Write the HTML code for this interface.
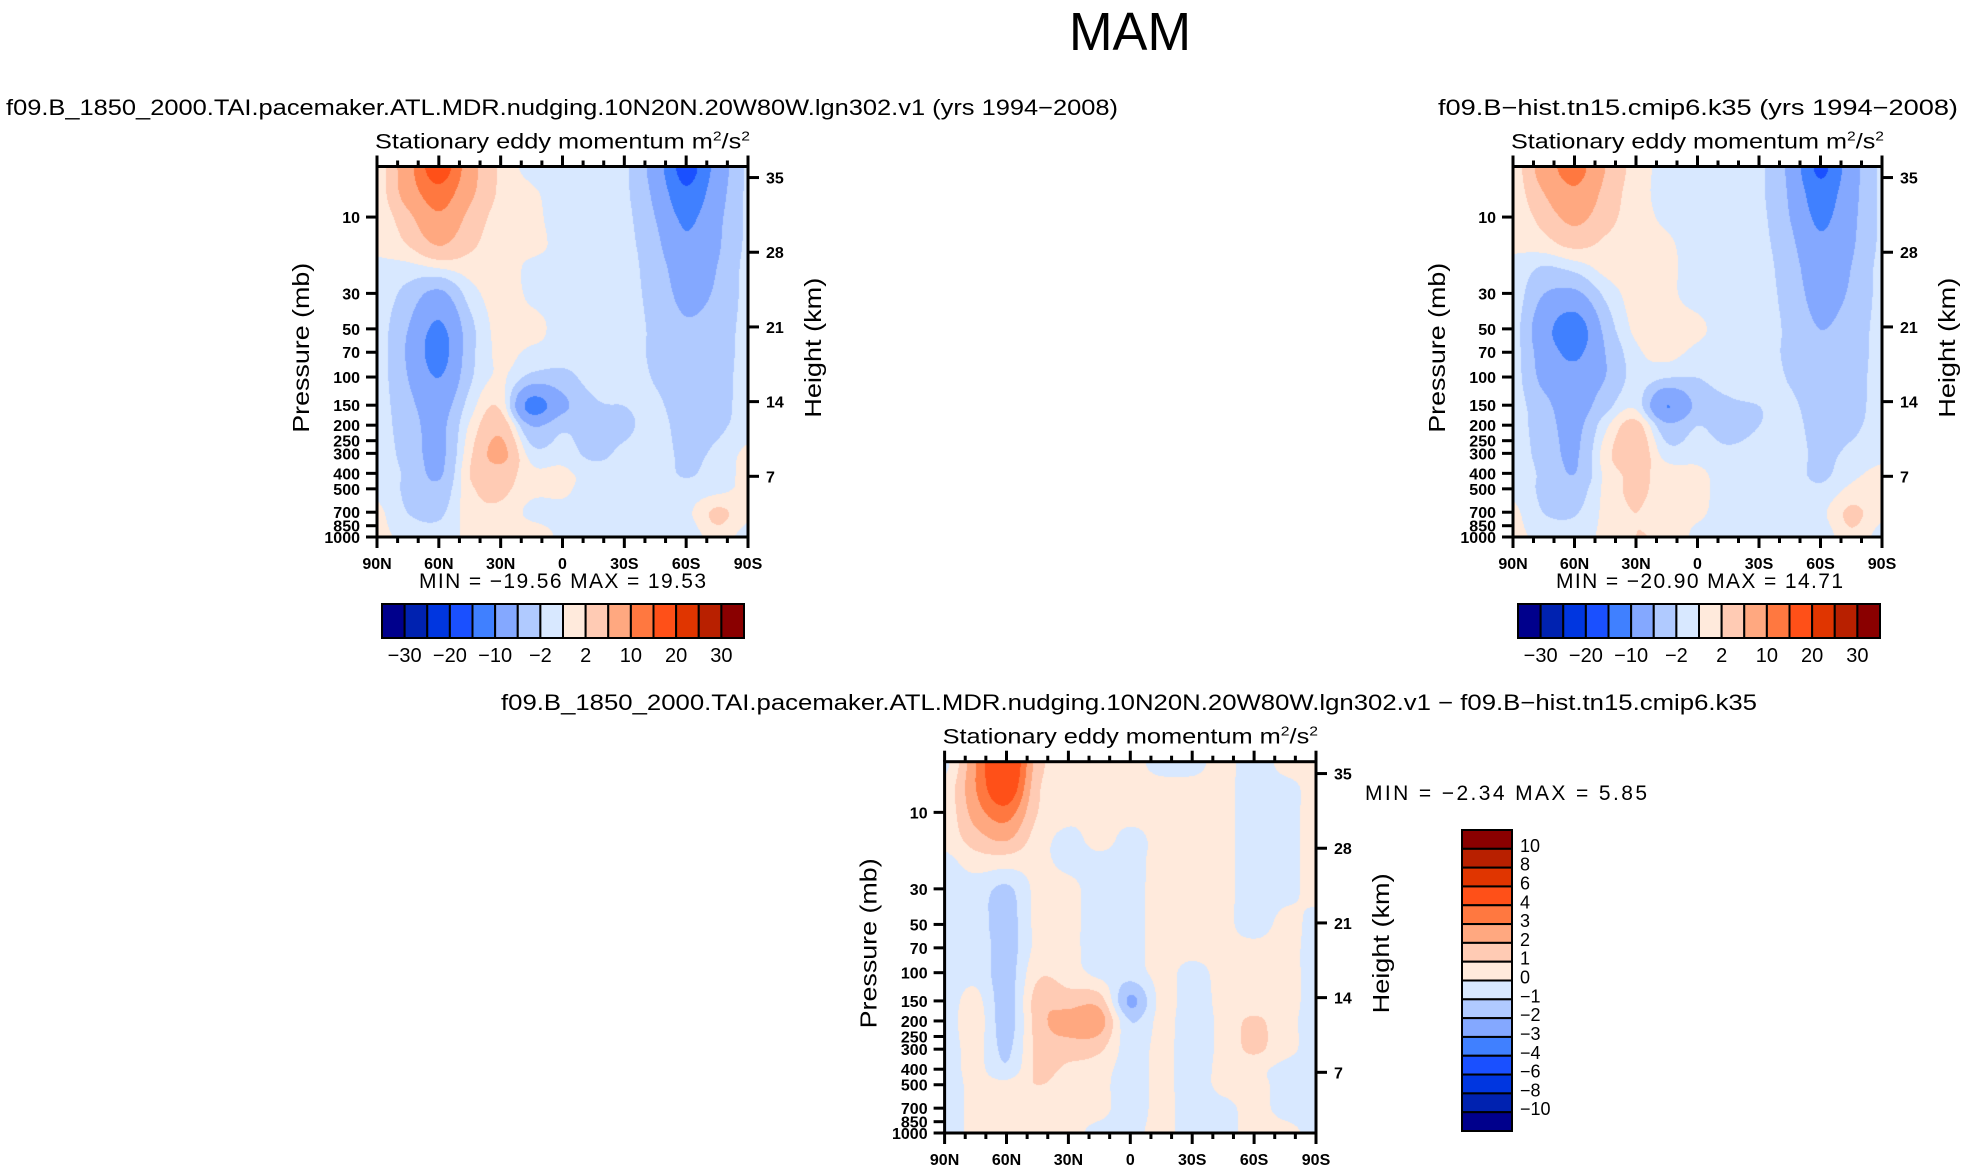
<!DOCTYPE html>
<html><head><meta charset="utf-8"><style>
html,body{margin:0;padding:0;background:#fff;}
#root{position:relative;width:1965px;height:1170px;overflow:hidden;background:#fff;}
canvas{position:absolute;}
svg{position:absolute;left:0;top:0;}
text{font-family:"Liberation Sans",sans-serif;fill:#000;}
.tk{font-weight:bold;font-size:16px;}
</style></head><body>
<div id="root">
<canvas id="cA"></canvas>
<canvas id="cB"></canvas>
<canvas id="cC"></canvas>
<svg id="sv" width="1965" height="1170">
<text x="1130" y="50" font-size="54" text-anchor="middle" style="font-family:'DejaVu Sans ExtraLight','Liberation Sans',sans-serif;font-weight:200" textLength="122" lengthAdjust="spacingAndGlyphs">MAM</text>
<text x="6" y="115" font-size="22" textLength="1112" lengthAdjust="spacingAndGlyphs">f09.B_1850_2000.TAI.pacemaker.ATL.MDR.nudging.10N20N.20W80W.lgn302.v1  (yrs 1994−2008)</text>
<text x="1438" y="115" font-size="22" textLength="520" lengthAdjust="spacingAndGlyphs">f09.B−hist.tn15.cmip6.k35  (yrs 1994−2008)</text>
<text x="501" y="710" font-size="22" textLength="1256" lengthAdjust="spacingAndGlyphs">f09.B_1850_2000.TAI.pacemaker.ATL.MDR.nudging.10N20N.20W80W.lgn302.v1  −  f09.B−hist.tn15.cmip6.k35</text>
</svg>
</div>
<script>
// ---- data ----
const lats = [90,75,60,45,30,15,0,-15,-30,-45,-60,-75,-90];
const pressures = [5,7,10,15,20,30,50,70,100,150,200,300,400,500,700,1000];
const fieldA = [
[0.5,8,18,7,1.5,-0.5,-0.8,-1,-1.5,-7,-17,-8,-1.5],
[0.5,7,13,6,1.5,0.3,-0.8,-1,-1.5,-6,-14,-7,-1.5],
[0.3,4,9,4,1,0.5,-0.8,-1,-1.3,-5,-11,-6,-1.5],
[0.3,2,5,2.5,0.8,0.5,-0.5,-1,-1.2,-4,-9,-5.5,-1.5],
[-0.3,-0.5,0.5,1,0.8,-0.3,-0.5,-0.8,-1,-3.5,-7,-5,-1.2],
[-0.5,-3,-6,-1,0.8,-0.3,-0.5,-0.5,-1,-3,-6,-4.5,-1.2],
[-0.8,-5,-11,-3,0.8,0.5,-0.5,-0.5,-1,-2.5,-4.5,-3.5,-1.2],
[-0.8,-5.5,-12,-3,0.5,-0.5,-0.8,-1,-1,-2.5,-4,-3.5,-1],
[-0.8,-5,-10,-2.5,0.3,-3,-3,-1,-1,-2.2,-4,-3.2,-1],
[-0.8,-4,-7,-1,1.5,-12,-6,-2.5,-2,-1.5,-3.5,-3,-1],
[-0.8,-3.5,-6,0.3,4,-5,-2.5,-3,-2.5,-1.2,-3,-2.5,-1],
[-0.8,-3,-6,1.5,6,-1,-1,-2.5,-1.5,-1,-2.5,-1.5,0.5],
[-0.8,-2.5,-5.5,2,3.5,0.5,0.5,-1,-1,-1,-2.2,-1,0.5],
[-0.5,-2.5,-4,1.5,2.5,0.5,0.3,-0.8,-1,-0.8,-1.2,-0.5,0.5],
[0.5,-2,-2.5,1,1.5,-0.5,-0.5,-0.8,-0.8,-0.8,-0.5,2.5,0.5],
[0.5,-0.5,-1,0.5,1,1.5,-0.5,-0.8,-0.8,-0.8,-1.5,1,-1]];
const fieldB = [
[0.5,7,12,5,1,-0.5,-0.8,-1,-1.5,-6,-16,-7,-1.5],
[0.5,5,9,4,0.8,-0.5,-0.8,-1,-1.5,-5.5,-13,-6.5,-1.5],
[0.3,3,6,3,0.8,-0.3,-0.8,-1,-1.3,-5,-11,-6,-1.5],
[0.3,1,2.5,1.5,0.8,0.3,-0.8,-1,-1.2,-4,-9,-5.5,-1.5],
[-0.5,-2,-1,0.8,0.8,0.3,-0.5,-0.8,-1,-3.5,-7.5,-5,-1.2],
[-0.5,-5,-6,-1.5,0.8,0.3,-0.5,-0.8,-1,-3,-6.5,-4.5,-1.2],
[-0.8,-8,-13,-4,0.5,0.5,0.3,-0.8,-1,-2.5,-5,-3.5,-1.2],
[-0.8,-7,-11,-5,-0.5,0.5,-0.5,-1,-1,-2.5,-4,-3.5,-1],
[-0.8,-6,-8,-5,-1,-2,-2,-1,-1,-2.2,-4,-3.2,-1],
[-0.8,-4,-7,-3,-0.5,-10,-4,-2.5,-2,-1.5,-3.5,-3,-1],
[-0.8,-3.5,-6,-0.5,3,-4,-2,-3,-2,-1.2,-3,-2.5,-1],
[-0.8,-3,-5.5,1,4,-1,-0.8,-1.5,-1,-1,-2.5,-1.5,-0.5],
[-0.8,-2.5,-5,0.5,2.5,1,0.5,-1,-1,-1,-2.5,-0.5,0.5],
[-0.5,-2.5,-3.5,0.5,2.5,0.8,0.5,-0.8,-1,-0.8,-1.5,0.5,0.5],
[0.5,-2,-2.2,0.5,2,0.5,0.3,-0.8,-0.8,-0.8,-0.5,2.5,0.5],
[0.5,-0.5,-0.8,0.5,2,1.5,-0.5,-0.8,-0.8,-0.8,-1.5,1.5,-1]];
const fieldC = [
[-0.3,3,5.5,1.5,0.3,0.3,0.3,-0.3,-0.3,0.3,-0.5,0.3,0.3],
[0.3,3,5,1.2,0.3,0.3,0.3,0.3,0.3,0.3,-0.5,-0.3,0.3],
[0.3,2.5,3.5,1,0.3,0.3,0.3,0.3,0.3,0.3,-0.5,-0.3,0.3],
[0.3,1.5,2,0.5,-0.3,0.3,-0.3,0.3,0.3,0.3,-0.5,-0.3,0.3],
[-0.3,0.5,0.5,0.3,-0.3,-0.3,-0.3,0.3,0.3,0.3,-0.5,-0.3,0.3],
[-0.5,-0.5,-1.2,0.3,0.3,-0.5,-0.3,0.3,0.3,0.3,-0.5,-0.3,0.3],
[-0.5,-0.5,-1.5,0.3,0.3,-0.5,-0.3,0.3,0.3,0.3,-0.5,0.3,-0.3],
[-0.5,-0.3,-1.5,0.3,0.3,-0.5,-0.3,0.3,0.3,0.3,0.3,0.3,-0.3],
[-0.5,-0.3,-1.5,0.8,0.5,-0.3,-0.5,0.3,-0.3,0.3,0.3,0.3,-0.3],
[-0.5,0.3,-1.5,1.5,1.5,1.5,-2.2,0.3,-0.5,0.3,0.3,0.3,-0.3],
[-0.5,0.5,-1.5,1.5,2.5,2.5,-1,0.3,-0.5,0.3,1.2,0.3,-0.3],
[-0.5,0.3,-1.2,1.3,1.5,1.2,-0.5,0.3,-0.5,0.3,1.2,0.3,-0.3],
[-0.5,0.3,-0.8,1.2,0.8,0.5,-0.5,0.3,-0.5,0.3,0.3,-0.3,-0.3],
[-0.5,0.3,0.3,1,0.5,0.3,-0.5,0.3,-0.5,0.3,0.3,-0.3,-0.3],
[-0.5,0.3,0.3,0.3,0.3,0.3,-0.5,0.3,-0.5,-0.3,0.3,-0.3,-0.3],
[-0.5,0.3,0.3,0.3,0.3,-0.3,-0.3,0.3,-0.5,-0.3,0.3,0.3,-0.3]];
const levelsAB = [-30,-25,-20,-15,-10,-5,-2,0,2,5,10,15,20,25,30];
const levelsC = [-10,-8,-6,-4,-3,-2,-1,0,1,2,3,4,6,8,10];
const labelsAB = ["−30","−20","−10","−2","2","10","20","30"];
const labelsC = ["−10","−8","−6","−4","−3","−2","−1","0","1","2","3","4","6","8","10"];
const palette = ["#00008c","#0022b0","#0036e0","#1a50ff","#4080ff","#84a8ff","#b0caff","#d8e8ff","#ffeadc","#ffcbb4","#ffa880","#ff7840","#ff5018","#e03500","#b82000","#8a0000"];
const presTicks = [10,30,50,70,100,150,200,250,300,400,500,700,850,1000];
const heightTicks = [7,14,21,28,35];
const latTicks = [90,60,30,0,-30,-60,-90];
const latTickLabels = ["90N","60N","30N","0","30S","60S","90S"];
const minmaxA = ["−19.56","19.53"];
const minmaxB = ["−20.90","14.71"];
const minmaxC = ["−2.34","5.85"];

// ---- helpers ----
const NS="http://www.w3.org/2000/svg";
const sv=document.getElementById('sv');
function mk(tag,attrs,txt){const e=document.createElementNS(NS,tag);for(const k in attrs)e.setAttribute(k,attrs[k]);if(txt!==undefined)e.textContent=txt;sv.appendChild(e);return e;}
const LP0=Math.log10(4.83), LP1=3;
function cubic(p0,p1,p2,p3,t){return p1+0.5*t*(p2-p0+t*(2*p0-5*p1+4*p2-p3+t*(3*(p1-p2)+p3-p0)));}
const logP=pressures.map(p=>Math.log10(p));
function sample(field,latv,lp){
  let fx=(90-latv)/15; let i=Math.floor(fx); if(i>11)i=11; if(i<0)i=0; const tx=fx-i;
  let lpc=Math.max(logP[0],Math.min(3,lp)); let j=0; while(j<logP.length-2&&lpc>logP[j+1])j++;
  const ty=(lpc-logP[j])/(logP[j+1]-logP[j]);
  const nr=field.length,nc=field[0].length;
  const g=(r,c)=>field[Math.max(0,Math.min(nr-1,r))][Math.max(0,Math.min(nc-1,c))];
  const rowv=r=>cubic(g(r,i-1),g(r,i),g(r,i+1),g(r,i+2),tx);
  return cubic(rowv(j-1),rowv(j),rowv(j+1),rowv(j+2),ty);
}
function hex(c){return [parseInt(c.substr(1,2),16),parseInt(c.substr(3,2),16),parseInt(c.substr(5,2),16)];}
const palRGB=palette.map(hex);

function panel(id,field,levels,x0,x1,y0,y1,name){
  const cv=document.getElementById(id);
  const w=Math.round(x1-x0),h=Math.round(y1-y0);
  cv.width=w;cv.height=h;cv.style.left=x0+'px';cv.style.top=y0+'px';
  const ctx=cv.getContext('2d');const im=ctx.createImageData(w,h);
  for(let y=0;y<h;y++){const lp=LP0+(y+0.5)/h*(LP1-LP0);
    for(let x=0;x<w;x++){const lat=90-(x+0.5)/w*180;const v=sample(field,lat,lp);
      let k=0;while(k<levels.length&&v>=levels[k])k++;const c=palRGB[k];const o=(y*w+x)*4;
      im.data[o]=c[0];im.data[o+1]=c[1];im.data[o+2]=c[2];im.data[o+3]=255;}}
  ctx.putImageData(im,0,0);
  const X=lat=>x0+(90-lat)/180*(x1-x0);
  const Y=p=>y0+(Math.log10(p)-LP0)/(LP1-LP0)*(y1-y0);
  const YH=km=>y1+14-km*10.67;
  const f=mk('rect',{x:x0,y:y0,width:x1-x0,height:y1-y0,fill:'none',stroke:'#000','stroke-width':3});
  
  
  for(let l=90;l>=-90;l-=10){const major=(l%30===0);const len=major?11:6;
    const b=mk('line',{x1:X(l),x2:X(l),y1:y1,y2:y1+len,stroke:'#000','stroke-width':3});
    
    
    const t=mk('line',{x1:X(l),x2:X(l),y1:y0,y2:y0-len,stroke:'#000','stroke-width':3});
    
    }
  latTicks.forEach((l,i)=>{const t=mk('text',{x:X(l),y:y1+32,'text-anchor':'middle','class':'tk'},latTickLabels[i]);
    
    });
  presTicks.forEach(p=>{const ln=mk('line',{x1:x0,x2:x0-11,y1:Y(p),y2:Y(p),stroke:'#000','stroke-width':3});
    
    
    const t=mk('text',{x:x0-17,y:Y(p)+6,'text-anchor':'end','class':'tk'},String(p));
    
    });
  heightTicks.forEach(k=>{const ln=mk('line',{x1:x1,x2:x1+11,y1:YH(k),y2:YH(k),stroke:'#000','stroke-width':3});
    
    
    const t=mk('text',{x:x1+18,y:YH(k)+6,'class':'tk'},String(k));
    
    });
  const st=mk('text',{x:x0-2,y:y0-18,'font-size':21,textLength:x1-x0+4,lengthAdjust:'spacingAndGlyphs'});
  st.innerHTML='Stationary  eddy  momentum   m<tspan dy="-8" font-size="13">2</tspan><tspan dy="8">/s</tspan><tspan dy="-8" font-size="13">2</tspan>';
  
  
  const cy=(y0+y1)/2-4;
  const pl=mk('text',{x:0,y:0,'font-size':23,'text-anchor':'middle',transform:`translate(${x0-68},${cy}) rotate(-90)`,textLength:170,lengthAdjust:'spacingAndGlyphs'},'Pressure  (mb)');
  
  
  const hl=mk('text',{x:0,y:0,'font-size':23,'text-anchor':'middle',transform:`translate(${x1+73},${cy}) rotate(-90)`,textLength:140,lengthAdjust:'spacingAndGlyphs'},'Height  (km)');
  
  
}
function hbar(x0,x1,y0,y1,labels,mm,mx){
  const n=palette.length,bw=(x1-x0)/n;
  palette.forEach((c,i)=>{const r=mk('rect',{x:x0+i*bw,y:y0,width:bw,height:y1-y0,fill:c,stroke:'#000','stroke-width':2});
    
    });
  labels.forEach((l,i)=>{const t=mk('text',{x:x0+(2*i+1)*bw,y:y1+24,'font-size':20,'text-anchor':'middle'},l);
    
    });
  return mk('text',{x:mx,y:mm,'font-size':21,textLength:287,lengthAdjust:'spacing'});
}
panel('cA',fieldA,levelsAB,377,748,166.5,537,'left-panel');
panel('cB',fieldB,levelsAB,1513,1882,166.5,537,'right-panel');
panel('cC',fieldC,levelsC,944.6,1316,761.7,1133,'difference-panel');
let t1=hbar(382,744,604,638,labelsAB,588,419);
t1.textContent='MIN = '+minmaxA[0]+'   MAX =   '+minmaxA[1];


let t2=hbar(1518,1880,604,638,labelsAB,588,1556);
t2.textContent='MIN = '+minmaxB[0]+'   MAX =   '+minmaxB[1];


// vertical colorbar for difference
(function(){const x0=1462,x1=1512,y0=830,y1=1131,n=palette.length,bh=(y1-y0)/n;
  for(let i=0;i<n;i++){const r=mk('rect',{x:x0,y:y0+i*bh,width:x1-x0,height:bh,fill:palette[n-1-i],stroke:'#000','stroke-width':2});
    
    }
  for(let i=0;i<labelsC.length;i++){const t=mk('text',{x:1520,y:y0+(i+1)*bh+3,'font-size':18},labelsC[labelsC.length-1-i]);
    
    }
  const t=mk('text',{x:1365,y:800,'font-size':21,textLength:282,lengthAdjust:'spacing'},'MIN = '+minmaxC[0]+'   MAX = '+minmaxC[1]);
  
  
})();
</script>
</body></html>
